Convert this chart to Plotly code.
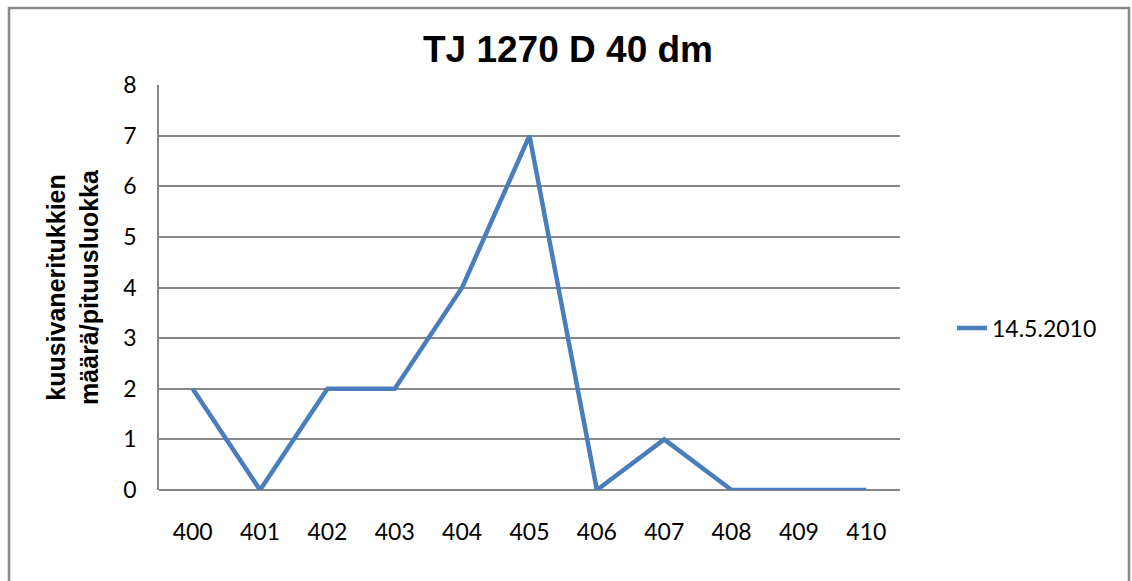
import plotly.graph_objects as go

categories = ["400", "401", "402", "403", "404", "405", "406", "407", "408", "409", "410"]
values = [2, 0, 2, 2, 4, 7, 0, 1, 0, 0, 0]
series_name = "14.5.2010"
y_ticks = [0, 1, 2, 3, 4, 5, 6, 7, 8]

W, H = 1132, 581
L, R, T, B = 159, 900, 85, 490
pw, ph = R - L, B - T

def px(x):
    return (x - L) / pw

def py(y):
    return (B - y) / ph

fig = go.Figure()
fig.add_trace(go.Scatter(
    x=categories, y=values, mode="lines", name=series_name,
    line=dict(color="#4A7EBB", width=4.5),
))

fig.update_layout(
    width=W, height=H,
    margin=dict(l=L, r=W - R, t=T, b=H - B),
    paper_bgcolor="white", plot_bgcolor="white",
    font=dict(family="Lato, Open Sans, sans-serif", size=23, color="black"),
    title=dict(text="<b>TJ 1270 D 40 dm</b>", x=568 / W, xanchor="center",
               y=1 - 49 / H, yanchor="middle",
               font=dict(family="Liberation Sans, Arial, sans-serif", size=37, color="black")),
    showlegend=True,
    legend=dict(x=px(952), y=py(328), xanchor="left", yanchor="middle",
                font=dict(size=23), bgcolor="rgba(0,0,0,0)"),
    xaxis=dict(type="category", range=[-0.5, 10.5], showgrid=False,
               showline=False, ticks="", ticklen=0, tickfont=dict(size=23),
               ticklabelstandoff=26),
    yaxis=dict(range=[0, 8], tickvals=y_ticks, showgrid=True, gridcolor="#878787",
               gridwidth=1.5, showline=True, linecolor="#878787", linewidth=1.5,
               ticks="", zeroline=True, zerolinecolor="#878787", zerolinewidth=1.5,
               tickfont=dict(size=23), ticklabelstandoff=16,
               title=dict(text="<b>kuusivaneritukkien<br>määrä/pituusluokka</b>",
                          font=dict(family="Liberation Sans, Arial, sans-serif", size=25),
                          standoff=18)),
)

fig.add_shape(type="rect", xref="paper", yref="paper",
              x0=px(9), x1=px(1129), y0=py(600), y1=py(8),
              line=dict(color="#888888", width=2.5), fillcolor="rgba(0,0,0,0)", layer="below")

fig.write_html("out.html")
